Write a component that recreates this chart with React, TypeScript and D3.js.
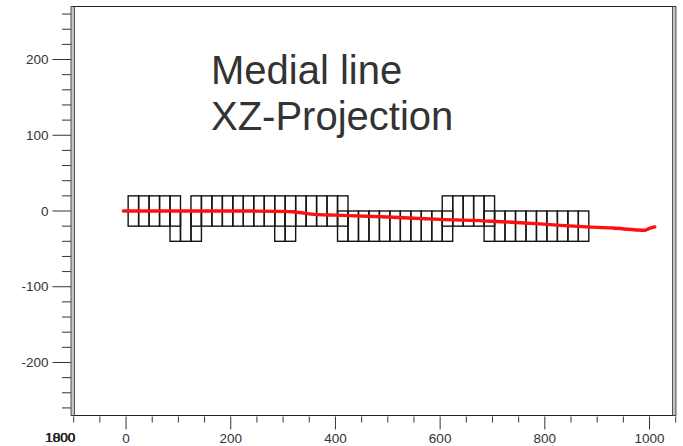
import React from "react";
import * as d3 from "d3";

// Segment boxes along the medial line (left edge in x, each 20 wide)
const upperBoxX = [4, 24, 44, 64, 84, 124, 144, 164, 184, 204, 224, 244, 264, 284, 304, 324, 344, 364, 384, 404, 604, 624, 644, 664, 684];
const lowerBoxX = [84, 104, 124, 284, 304, 404, 424, 444, 464, 484, 504, 524, 544, 564, 584, 604, 684, 704, 724, 744, 764, 784, 804, 824, 844, 864];
const boxWidth = 20;
const upperBoxZ = [-20, 20];
const lowerBoxZ = [-40, 0];

// Medial line, XZ projection
const lineX = [-5, 100, 200, 300, 330, 360, 400, 500, 600, 700, 790, 830, 880, 930, 975, 990, 1000, 1010];
const lineZ = [0, 0, 0, -0.5, -2, -4.5, -5.5, -8, -11, -13.5, -17, -19, -21, -22.5, -25, -25.5, -23, -21];

const xLabelTicks = [0, 200, 400, 600, 800, 1000];
const yLabelTicks = [-200, -100, 0, 100, 200];
const titleLines = ["Medial line", "XZ-Projection"];

const W = 683;
const H = 446;
const FONT = "'Liberation Sans', Arial, Helvetica, sans-serif";

export default function App() {
  const x = d3.scaleLinear().domain([-100, 1050]).range([73.7, 675.7]);
  const y = d3.scaleLinear().domain([-270, 270]).range([415.5, 6.5]);

  const xMinor = d3.range(-100, 1051, 50);
  const yMinor = d3.range(-260, 261, 20);

  const left = 72;
  const right = 676;
  const top = y(270);
  const bottom = y(-270);

  const line = d3
    .line<number>()
    .x((_, i) => x(lineX[i]))
    .y((_, i) => y(lineZ[i]))
    .curve(d3.curveMonotoneX);

  const boxes = [
    ...upperBoxX.map((bx) => ({ bx, z: upperBoxZ })),
    ...lowerBoxX.map((bx) => ({ bx, z: lowerBoxZ })),
  ];

  return (
    <svg
      width={W}
      height={H}
      style={{ position: "absolute", left: 0, top: 0, background: "#fff" }}
      fontFamily={FONT}
    >
      {/* plot frame */}
      <line x1={left} x2={right} y1={top} y2={top} stroke="#222" strokeWidth={1} />
      <line x1={left - 1} x2={right} y1={bottom} y2={bottom} stroke="#222" strokeWidth={1} />
      <rect x={71} y={top} width={3.5} height={bottom - top} fill="#c4c4c4" stroke="#333" strokeWidth={0.8} />
      <rect x={672.5} y={top} width={3.5} height={bottom - top} fill="#c4c4c4" stroke="#333" strokeWidth={0.8} />

      {/* y axis ticks */}
      {yMinor.map((v) => {
        const major = v % 100 === 0;
        return (
          <line
            key={"ym" + v}
            x1={71}
            x2={major ? 52.5 : 62}
            y1={y(v)}
            y2={y(v)}
            stroke="#333"
            strokeWidth={1}
          />
        );
      })}
      {yLabelTicks.map((v) => (
        <text
          key={"yl" + v}
          x={48.5}
          y={y(v)}
          dy="0.35em"
          textAnchor="end"
          fontSize={13.5}
          fill="#333"
        >
          {v}
        </text>
      ))}

      {/* x axis ticks */}
      {xMinor.map((v) => {
        const major = xLabelTicks.includes(v);
        return (
          <line
            key={"xm" + v}
            x1={x(v)}
            x2={x(v)}
            y1={bottom + 1}
            y2={bottom + (major ? 14 : 7)}
            stroke="#333"
            strokeWidth={1}
          />
        );
      })}
      {xLabelTicks.map((v) => (
        <text
          key={"xl" + v}
          x={x(v)}
          y={443}
          textAnchor="middle"
          fontSize={13.5}
          fill="#333"
        >
          {v}
        </text>
      ))}
      {/* overlapping axis caption at the left end */}
      <g fontSize={13.5} fill="#222" textAnchor="middle">
        <text x={60} y={442}>1800</text>
        <text x={60.6} y={442}>1800</text>
        <text x={60.3} y={442}>1000</text>
      </g>

      {/* segment boxes */}
      <g fill="none" stroke="#151515" strokeWidth={1.4}>
        {boxes.map((b, i) => (
          <rect
            key={i}
            x={x(b.bx)}
            y={y(b.z[1])}
            width={x(b.bx + boxWidth) - x(b.bx)}
            height={y(b.z[0]) - y(b.z[1])}
          />
        ))}
      </g>

      {/* medial line */}
      <path
        d={line(lineX) || ""}
        fill="none"
        stroke="#ff1010"
        strokeWidth={3.4}
        strokeLinejoin="round"
        strokeLinecap="round"
      />

      {/* title */}
      <g fontSize={40} fill="#333">
        {titleLines.map((t, i) => (
          <text key={t} x={211} y={84 + i * 46}>
            {t}
          </text>
        ))}
      </g>
    </svg>
  );
}
